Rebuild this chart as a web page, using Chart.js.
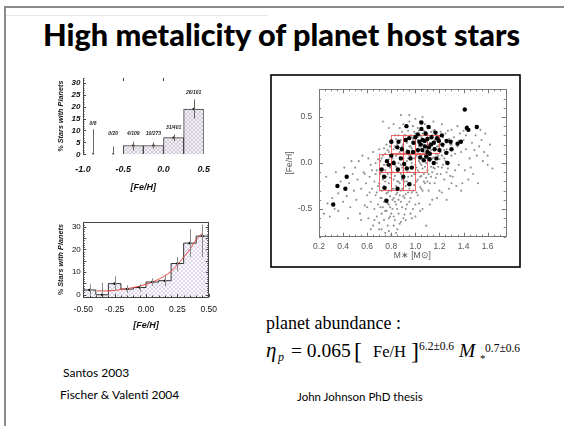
<!DOCTYPE html>
<html>
<head>
<meta charset="utf-8">
<title>High metalicity of planet host stars</title>
<script src="https://cdn.jsdelivr.net/npm/chart.js@4.4.1/dist/chart.umd.min.js"></script>
<style>
  html, body { margin: 0; padding: 0; background: #fff; }
  body { position: relative; width: 564px; height: 426px; overflow: hidden; }
  svg.page { position: absolute; left: 0; top: 0; }
  .box { position: absolute; }
  .box canvas { display: block; }
</style>
</head>
<body>
<svg class="page" width="564" height="426">
  <rect x="4" y="6" width="2" height="420" fill="#8c8c8c"/>
  <rect x="4" y="6" width="560" height="2" fill="#8c8c8c"/>
  <rect x="6" y="15" width="262" height="1" fill="#e6e6e6"/>
  <text x="43" y="46" textLength="477" lengthAdjust="spacingAndGlyphs" font-family="Lato" font-weight="900" font-size="31">High metalicity of planet host stars</text>
  <rect x="271" y="75" width="249" height="192" fill="none" stroke="#000" stroke-width="1.6"/>
  <text x="63" y="377" font-family="Lato" font-size="12">Santos 2003</text>
  <text x="60" y="399" font-family="Lato" font-size="12">Fischer &amp; Valenti 2004</text>
  <text x="297" y="401" font-family="Lato" font-size="11.5">John Johnson PhD thesis</text>
  <g font-family="Liberation Serif" fill="#000">
    <text x="266" y="329" font-size="18">planet abundance :</text>
    <text x="266" y="357" font-size="21" font-style="italic">η</text>
    <text x="278" y="361" font-size="12" font-style="italic">p</text>
    <text x="291" y="357" font-size="19.5">= 0.065</text>
    <text x="354" y="359" font-size="24">[</text>
    <text x="373" y="357" font-size="16.5">Fe/H</text>
    <text x="411" y="359" font-size="24">]</text>
    <text x="419" y="350" font-size="11.5">6.2±0.6</text>
    <text x="459" y="357" font-size="19.5" font-style="italic">M</text>
    <text x="480" y="362" font-size="11">*</text>
    <text x="485" y="352" font-size="11.5">0.7±0.6</text>
  </g>
</svg>
<div class="box" style="left:50px;top:70px"><canvas id="santos" width="170" height="130"></canvas></div>
<div class="box" style="left:50px;top:215px"><canvas id="fischer" width="175" height="130"></canvas></div>
<div class="box" style="left:272px;top:76px"><canvas id="johnson" width="247" height="190"></canvas></div>
<script>
// Santos 2003: fraction of stars with planets per [Fe/H] bin
const santosCenters = [-0.875, -0.625, -0.375, -0.125, 0.125, 0.375];
const santosPct = [0, 0, 3.7, 3.7, 7.0, 19.0];
const santosErrLo = [0, 0, 1.5, 2.5, 5.6, 15.0];
const santosErrHi = [10.5, 3.3, 5.3, 5.0, 8.4, 23.0];
const santosCounts = ["0/8", "0/20", "4/109", "10/273", "31/401", "26/101"];
const santosCountAt = [11.8, 7.8, 7.8, 7.8, 10.2, 25.0];
const santosXTicks = [-1.0, -0.5, 0.0, 0.5];
const santosYTicks = [0, 5, 10, 15, 20, 25, 30];

// Fischer & Valenti 2004
const fvEdges = [-0.5, -0.4, -0.3, -0.2, -0.1, 0.0, 0.1, 0.2, 0.3, 0.4, 0.5];
const fvCenters = [-0.45, -0.35, -0.25, -0.15, -0.05, 0.05, 0.15, 0.25, 0.35, 0.45];
const fvPct = [2.1, 0, 4.9, 2.5, 3.2, 5.6, 6.2, 13.8, 22.8, 25.9];
const fvErrLo = [0, 0, 1.8, 0.8, 1.4, 3.9, 3.9, 10.3, 16.6, 16.6];
const fvErrHi = [4.6, 5.3, 8.2, 4.2, 4.6, 7.3, 8.9, 16.6, 29.0, 31.0];
const fitFeh = [-0.39, -0.3, -0.2, -0.1, 0.0, 0.1, 0.2, 0.26, 0.3, 0.36, 0.4, 0.45];
const fitPct = [1.7, 1.7, 2.3, 3.2, 4.6, 6.8, 10.3, 13.8, 16.6, 20.8, 24.4, 27.2];
const fvXTicks = [-0.5, -0.25, 0, 0.25, 0.5];
const fvYTicks = [0, 5, 10, 15, 20, 25, 30];

// Johnson thesis: stellar mass vs [Fe/H]
const fieldStars = [
  [0.24,-0.55],[0.27,-0.44],[0.29,-0.58],[0.31,-0.38],[0.26,-0.15],[0.33,-0.5],
  [0.36,-0.33],[0.38,-0.2],[0.4,-0.42],[0.41,-0.05],[0.43,-0.36],[0.45,-0.22],[0.46,-0.48],[0.48,-0.12],[0.49,-0.3],
  [0.51,-0.4],[0.52,-0.18],[0.53,0.02],[0.54,-0.55],[0.55,-0.28],[0.56,0.08],[0.57,-0.1],[0.58,-0.46],[0.59,-0.22],[0.6,-0.35],
  [0.61,-0.6],[0.61,0.05],[0.62,-0.15],[0.63,-0.42],[0.63,-0.02],[0.64,-0.28],[0.65,-0.68],[0.65,0.12],[0.66,-0.5],
  [0.66,-0.2],[0.67,-0.35],[0.67,0.0],[0.68,-0.08],[0.68,-0.58],[0.69,-0.45],[0.69,-0.25],[0.7,0.15],[0.7,-0.72],
  [0.71,-0.38],[0.71,-0.12],[0.72,-0.55],[0.72,0.05],[0.72,-0.3],[0.73,0.45],[0.73,-0.18],[0.73,-0.48],[0.74,-0.02],
  [0.74,-0.62],[0.74,-0.25],[0.75,0.1],[0.75,-0.4],[0.75,-0.08],
  [0.76,-0.52],[0.76,-0.15],[0.76,0.2],[0.77,-0.32],[0.77,0.02],[0.77,-0.68],[0.78,-0.22],[0.78,-0.45],[0.78,0.12],
  [0.79,-0.05],[0.79,-0.36],[0.79,-0.58],[0.8,0.25],[0.8,-0.12],[0.8,-0.78],
  [0.81,-0.28],[0.81,0.05],[0.81,-0.5],[0.82,-0.18],[0.82,0.15],[0.82,-0.38],[0.83,-0.02],[0.83,-0.62],[0.83,0.3],
  [0.84,-0.25],[0.84,0.08],[0.84,-0.45],[0.85,-0.1],[0.85,0.2],[0.85,-0.32],[0.85,-0.72],
  [0.86,0.0],[0.86,-0.2],[0.86,-0.55],[0.87,0.12],[0.87,-0.35],[0.87,0.38],[0.88,-0.12],[0.88,-0.42],[0.88,0.25],
  [0.88,0.52],[0.89,-0.05],[0.89,-0.28],[0.89,0.18],[0.9,-0.6],[0.9,0.05],[0.9,-0.18],
  [0.91,0.3],[0.91,-0.38],[0.91,-0.02],[0.92,0.12],[0.92,-0.25],[0.92,-0.5],[0.93,0.22],[0.93,-0.1],[0.93,0.02],
  [0.94,-0.32],[0.94,0.35],[0.94,-0.15],[0.95,0.08],[0.95,-0.42],[0.95,0.45],
  [0.96,-0.05],[0.96,0.18],[0.96,-0.22],[0.97,0.28],[0.97,-0.6],[0.97,0.0],[0.98,0.12],[0.98,-0.3],[0.98,0.4],
  [0.99,-0.12],[0.99,0.22],[0.99,0.05],[1.0,-0.45],[1.0,0.32],[1.0,-0.02],
  [1.01,0.15],[1.01,-0.2],[1.01,0.08],[1.02,0.25],[1.02,-0.08],[1.02,-0.35],[1.03,0.35],[1.03,0.02],[1.03,0.18],
  [1.04,-0.15],[1.04,0.45],[1.04,0.1],[1.05,-0.28],[1.05,0.28],[1.05,-0.02],
  [1.06,0.2],[1.06,0.05],[1.06,-0.5],[1.07,0.35],[1.07,-0.12],[1.07,0.12],[1.08,0.25],[1.08,-0.22],[1.08,0.42],
  [1.09,0.0],[1.09,0.15],[1.09,-0.68],[1.1,0.3],[1.1,-0.08],[1.1,0.08],
  [1.11,0.2],[1.11,-0.3],[1.12,0.38],[1.12,0.02],[1.12,0.12],[1.13,-0.15],[1.13,0.28],[1.14,0.05],[1.14,0.22],
  [1.14,-0.4],[1.15,0.15],[1.15,-0.05],[1.15,0.35],
  [1.16,0.25],[1.16,-0.22],[1.17,0.1],[1.17,0.32],[1.18,0.0],[1.18,0.18],[1.18,-0.12],[1.19,0.28],[1.19,0.08],
  [1.2,-0.3],[1.2,0.2],
  [1.21,0.12],[1.22,-0.05],[1.22,0.3],[1.23,0.18],[1.24,-0.18],[1.24,0.05],[1.25,0.25],[1.26,-0.1],[1.26,0.15],
  [1.27,0.35],[1.28,0.0],[1.28,-0.28],[1.29,0.2],[1.3,0.08],
  [1.31,-0.15],[1.32,0.28],[1.33,0.1],[1.34,-0.25],[1.35,0.18],[1.36,-0.02],[1.37,0.32],[1.38,0.12],[1.39,-0.22],
  [1.4,0.25],[1.41,-0.08],[1.42,0.15],[1.43,0.4],[1.44,-0.18],[1.45,0.05],
  [1.47,0.22],[1.48,-0.12],[1.5,0.3],[1.51,0.08],[1.53,0.18],[1.55,0.25],[1.56,0.02],[1.58,0.32],[1.6,0.08],[1.6,-0.02],
  // denser core of the cloud
  [0.70,-0.22],[0.71,0.02],[0.71,-0.48],[0.72,-0.1],[0.72,-0.38],[0.73,0.08],[0.73,-0.27],[0.74,-0.42],[0.74,0.16],
  [0.75,-0.2],[0.75,-0.52],[0.76,-0.02],[0.76,-0.33],[0.77,0.14],[0.77,-0.12],[0.77,-0.44],[0.78,0.04],[0.78,-0.3],
  [0.78,-0.6],[0.79,0.18],[0.79,-0.16],[0.79,-0.48],[0.8,-0.02],[0.8,-0.3],[0.8,-0.55],[0.81,0.22],[0.81,-0.1],
  [0.81,-0.4],[0.82,0.02],[0.82,-0.28],[0.82,-0.58],[0.83,0.18],[0.83,-0.14],[0.83,-0.42],[0.84,-0.04],[0.84,0.26],
  [0.84,-0.34],[0.85,0.1],[0.85,-0.2],[0.85,-0.5],[0.86,0.3],[0.86,-0.08],[0.86,-0.4],[0.87,0.06],[0.87,-0.22],
  [0.87,-0.66],[0.88,0.16],[0.88,-0.02],[0.88,-0.3],[0.89,0.34],[0.89,-0.18],[0.89,-0.48],[0.9,0.2],[0.9,-0.08],
  [0.9,-0.36],[0.91,0.1],[0.91,-0.2],[0.91,-0.56],[0.92,0.3],[0.92,-0.04],[0.92,-0.34],[0.93,0.14],[0.93,-0.2],
  [0.93,-0.45],[0.94,0.05],[0.94,0.26],[0.94,-0.06],[0.95,0.18],[0.95,-0.28],[0.95,-0.1],[0.96,0.3],[0.96,0.08],
  [0.96,-0.38],[0.97,0.16],[0.97,-0.14],[0.97,-0.32],[0.98,0.26],[0.98,-0.04],[0.98,-0.5],[0.99,0.34],[0.99,0.12],
  [0.99,-0.24],[1.0,0.2],[1.0,0.06],[1.0,-0.12],[1.01,0.28],[1.01,-0.05],[1.01,-0.32],[1.02,0.12],[1.02,0.38],
  [1.02,-0.18],[1.03,0.22],[1.03,-0.1],[1.03,-0.44],[1.04,0.3],[1.04,0.0],[1.04,-0.26],[1.05,0.16],[1.05,0.08],
  [1.05,-0.14],[1.06,0.32],[1.06,-0.06],[1.06,-0.3],[1.07,0.2],[1.07,0.04],[1.07,-0.2],[1.08,0.34],[1.08,0.1],
  [1.08,-0.04],[1.09,0.24],[1.09,-0.16],[1.09,0.06],[1.1,0.16],[1.1,0.4],[1.1,-0.2],[1.11,0.26],[1.11,0.06],
  [1.11,-0.12],[1.12,0.22],[1.12,-0.22],[1.13,0.14],[1.13,0.34],[1.13,-0.04],[1.14,0.3],[1.14,-0.1],[1.15,0.22],
  [1.15,0.06],[1.16,0.16],[1.16,0.36],[1.16,-0.06],[1.17,0.24],[1.17,-0.16],[1.18,0.1],[1.18,0.3],[1.19,-0.04],
  [1.19,0.18],[1.2,0.26],[1.2,0.04],[1.21,0.34],[1.21,-0.12],[1.22,0.2],[1.22,0.08],[1.23,-0.02],[1.23,0.28],
  [1.24,0.14],[1.25,0.02],[1.25,0.32],[1.26,0.22],[1.27,-0.06],[1.27,0.12],[1.28,0.26],[1.29,-0.14],[1.3,0.2],[1.3,-0.22],
  // sparse edges
  [0.55,-0.62],[0.58,-0.12],[0.6,-0.48],[0.62,-0.32],[0.63,-0.72],[0.64,-0.08],[0.66,-0.62],[0.67,-0.12],[0.68,-0.32],
  [0.69,0.04],[0.7,-0.65],[0.72,-0.72],[0.75,-0.76],[0.78,-0.74],[0.82,-0.68],[0.84,-0.76],[0.88,-0.64],[0.92,-0.62],
  [0.96,-0.55],[1.0,-0.58],[1.04,-0.52],[1.12,-0.45],[1.18,-0.38],[1.22,-0.32],[1.26,-0.4],[0.47,0.02],[0.5,-0.05],
  [0.44,-0.6],[0.36,-0.52],[0.34,-0.1],[0.78,0.38],[0.82,0.42],[0.9,0.42],[0.95,0.52],[1.0,0.48],[1.06,0.5],
  [1.15,0.45],[1.22,0.42],[1.3,0.36],[1.35,0.4],[1.4,0.35],[1.33,-0.08],[1.36,0.24],[1.38,-0.3],[1.42,0.3],
  [1.46,-0.05],[1.49,0.14],[1.52,-0.22],[1.54,0.36],[1.57,0.12],[1.62,0.2],[1.64,-0.06]
];
const hostStars = [
  [0.318,-0.45],[0.353,-0.25],[0.419,-0.28],[0.43,-0.15],[0.76,-0.41],[0.72,-0.07],[0.74,-0.15],[0.745,-0.27],
  [0.764,0.02],[0.80,0.08],[0.80,0.23],[0.85,0.17],[0.855,-0.07],[0.852,-0.28],[0.888,0.15],[0.907,-0.01],
  [0.90,-0.15],[0.926,0.40],[0.929,-0.06],[0.948,0.27],[0.95,-0.23],[0.984,0.22],[1.05,0.44],[1.044,0.2],
  [1.058,0.14],[1.077,0.24],[1.085,0.32],[1.09,0.07],[1.10,0.12],[1.11,0.39],[1.112,0.17],[1.134,0.28],
  [1.153,0.22],[1.167,0.33],[1.175,0.05],[1.195,0.24],[1.2,0.14],[1.225,0.2],[1.257,0.11],[1.266,0.0],
  [1.293,0.23],[1.378,0.23],[1.41,0.58],[1.427,0.38],[1.44,0.36],[1.51,0.39],[1.022,0.14],[1.033,0.23],
  [0.98,0.12],[0.96,0.05],[1.07,0.03],[1.118,0.04],[1.153,0.0],
  [1.0,0.28],[1.02,0.31],[1.06,0.25],[1.08,0.18],[1.1,0.26],[1.13,0.2],[1.16,0.15],[1.18,0.27],[1.22,0.3],
  [1.26,0.24],[0.92,0.25],[0.88,0.05],[0.82,0.0],[0.78,-0.02],[0.97,-0.05],[1.04,0.06],[1.12,0.1],[0.94,0.12],
  [1.3,0.15],[1.35,0.21],[1.05,0.37],[0.86,0.23]
];
// lower-left corners of the red bins (each 0.1 in mass by 0.2 in [Fe/H])
const binMass = [0.8, 0.9, 1.0, 1.1, 0.7, 0.8, 0.9, 1.0, 0.7, 0.8, 0.9];
const binFeh = [0.1, 0.1, 0.1, 0.1, -0.1, -0.1, -0.1, -0.1, -0.3, -0.3, -0.3];
const massTicks = [0.2, 0.4, 0.6, 0.8, 1.0, 1.2, 1.4, 1.6];
const fehTicks = [-0.5, 0.0, 0.5];

const helv = (size, weight, style) => ({ family: 'Liberation Sans', size, weight, style });

function hatch(line, bg, gap, cross) {
  const c = document.createElement('canvas');
  c.width = c.height = gap;
  const g = c.getContext('2d');
  g.fillStyle = bg;
  g.fillRect(0, 0, gap, gap);
  g.strokeStyle = line;
  g.lineWidth = 1;
  g.beginPath();
  g.moveTo(-1, gap + 1); g.lineTo(gap + 1, -1);
  if (cross) { g.moveTo(-1, -1); g.lineTo(gap + 1, gap + 1); }
  g.stroke();
  return g.createPattern(c, 'repeat');
}

function errorBars(xs, lo, hi, color) {
  return {
    id: 'errorBars',
    afterDatasetsDraw(chart) {
      const { ctx, scales: { x, y } } = chart;
      ctx.save();
      ctx.strokeStyle = color;
      ctx.lineWidth = 1;
      ctx.beginPath();
      xs.forEach((v, i) => {
        const px = Math.round(x.getPixelForValue(v)) + 0.5;
        ctx.moveTo(px, y.getPixelForValue(lo[i]));
        ctx.lineTo(px, y.getPixelForValue(hi[i]));
      });
      ctx.stroke();
      ctx.restore();
    }
  };
}

// ticks pointing into the plot, like the IDL originals
function innerTicks(cfg) {
  return {
    id: 'innerTicks',
    afterDraw(chart) {
      const { ctx, chartArea: a, scales: { x, y } } = chart;
      ctx.save();
      ctx.strokeStyle = cfg.color;
      ctx.lineWidth = 1;
      ctx.beginPath();
      const xs = (vals, len) => vals.forEach(v => {
        const px = Math.round(x.getPixelForValue(v)) + 0.5;
        if (cfg.xSides.includes('b')) { ctx.moveTo(px, a.bottom); ctx.lineTo(px, a.bottom - len); }
        if (cfg.xSides.includes('t')) { ctx.moveTo(px, a.top); ctx.lineTo(px, a.top + len); }
      });
      const ys = (vals, len) => vals.forEach(v => {
        const py = Math.round(y.getPixelForValue(v)) + 0.5;
        if (cfg.ySides.includes('l')) { ctx.moveTo(a.left, py); ctx.lineTo(a.left + len, py); }
        if (cfg.ySides.includes('r')) { ctx.moveTo(a.right, py); ctx.lineTo(a.right - len, py); }
      });
      xs(cfg.xMajor || [], cfg.major); xs(cfg.xMinor || [], cfg.minor);
      ys(cfg.yMajor || [], cfg.major); ys(cfg.yMinor || [], cfg.minor);
      ctx.stroke();
      if (cfg.frame) {
        ctx.strokeStyle = cfg.frame;
        ctx.strokeRect(Math.round(a.left) + 0.5, Math.round(a.top) + 0.5,
          Math.round(a.right - a.left), Math.round(a.bottom - a.top));
      }
      ctx.restore();
    }
  };
}

const steps = (from, to, step) => {
  const out = [];
  for (let v = from; v <= to + 1e-9; v += step) out.push(Math.round(v * 1000) / 1000);
  return out;
};

const base = {
  responsive: false,
  animation: false,
  devicePixelRatio: 1,
  events: [],
  plugins: { legend: { display: false }, tooltip: { enabled: false } }
};

// ---------- Santos 2003 ----------
new Chart(document.getElementById('santos'), {
  type: 'bar',
  data: {
    datasets: [
      {
        type: 'scatter',
        data: santosCenters.map((x, i) => ({ x, y: santosPct[i] })),
        pointRadius: 1.2, pointBorderWidth: 0, pointBackgroundColor: '#222', order: 0
      },
      {
        data: santosCenters.map((x, i) => ({ x, y: santosPct[i] || null })),
        backgroundColor: hatch('#d3ccdb', '#f3f1f5', 4, true),
        borderColor: '#3c3c3c', borderWidth: 1,
        barPercentage: 1, categoryPercentage: 1, order: 1
      }
    ]
  },
  options: {
    ...base,
    layout: { padding: { left: 0, top: 8, right: 14, bottom: 0 } },
    scales: {
      x: {
        type: 'linear', min: -1, max: 0.5, offset: false,
        grid: { display: false, drawTicks: false }, border: { display: false },
        afterBuildTicks: s => { s.ticks = santosXTicks.map(value => ({ value })); },
        afterFit: s => { s.height = 45.7; },
        ticks: { padding: 10, maxRotation: 0, autoSkip: false, color: '#111',
          font: helv(9, 'bold', 'italic'), callback: v => v.toFixed(1) },
        title: { display: true, text: '[Fe/H]', color: '#111', font: helv(9, 'bold', 'italic'),
          padding: { top: 0, bottom: 6.6 } }
      },
      y: {
        min: 0, max: 32,
        grid: { display: false, drawTicks: false }, border: { display: true, color: '#444', width: 1 },
        afterBuildTicks: s => { s.ticks = santosYTicks.map(value => ({ value })); },
        afterFit: s => { s.width = 33; },
        ticks: { padding: 2.5, color: '#111', font: helv(8, 'bold', 'italic') },
        title: { display: true, text: '% Stars with Planets', color: '#111', font: helv(7.3, 'bold', 'italic'),
          padding: { top: 6.3, bottom: 0 } }
      }
    }
  },
  plugins: [
    errorBars(santosCenters, santosErrLo, santosErrHi, '#666'),
    innerTicks({ color: '#444', xSides: 't', ySides: 'l', major: 3, minor: 1.5,
      xMajor: [-0.5, 0.0], yMajor: santosYTicks, yMinor: steps(0, 32, 1) }),
    {
      id: 'counts',
      afterDatasetsDraw(chart) {
        const { ctx, scales: { x, y } } = chart;
        ctx.save();
        ctx.font = 'italic bold 5px "Liberation Sans"';
        ctx.fillStyle = '#222';
        ctx.textAlign = 'center';
        ctx.textBaseline = 'bottom';
        santosCounts.forEach((t, i) => ctx.fillText(t, x.getPixelForValue(santosCenters[i]), y.getPixelForValue(santosCountAt[i])));
        ctx.restore();
      }
    }
  ]
});

// ---------- Fischer & Valenti 2004 ----------
new Chart(document.getElementById('fischer'), {
  type: 'line',
  data: {
    datasets: [
      {
        type: 'scatter',
        data: fvCenters.map((x, i) => ({ x, y: fvPct[i] })),
        pointRadius: 1.3, pointBorderWidth: 0, pointBackgroundColor: '#111', order: 0
      },
      {
        data: fitFeh.map((x, i) => ({ x, y: fitPct[i] })),
        borderColor: '#e8473f', borderWidth: 1, pointRadius: 0, fill: false,
        cubicInterpolationMode: 'monotone', order: 1
      },
      {
        data: fvEdges.map((x, i) => ({ x, y: fvPct[Math.min(i, fvPct.length - 1)] })),
        stepped: true, fill: 'start', backgroundColor: hatch('#e0d6ec', '#fdfcfe', 4, true),
        borderColor: '#333', borderWidth: 1, pointRadius: 0, order: 2
      }
    ]
  },
  options: {
    ...base,
    layout: { padding: { left: 0, top: 6, right: 13.3, bottom: 0 } },
    scales: {
      x: {
        type: 'linear', min: -0.5, max: 0.5,
        grid: { display: false, drawTicks: false }, border: { display: false },
        afterBuildTicks: s => { s.ticks = fvXTicks.map(value => ({ value })); },
        afterFit: s => { s.height = 48; },
        ticks: { padding: 8, maxRotation: 0, autoSkip: false, color: '#111',
          font: helv(8.5), callback: v => v.toFixed(2) },
        title: { display: true, text: '[Fe/H]', color: '#111', font: helv(9, 'bold', 'italic'),
          padding: { top: 0, bottom: 13.6 } }
      },
      y: {
        min: -1, max: 32,
        grid: { display: false, drawTicks: false }, border: { display: false },
        afterBuildTicks: s => { s.ticks = fvYTicks.map(value => ({ value })); },
        afterFit: s => { s.width = 33.3; },
        ticks: { padding: 2.5, color: '#111', font: helv(8) },
        title: { display: true, text: '% Stars with Planets', color: '#111', font: helv(7.3, 'bold', 'italic'),
          padding: { top: 6.3, bottom: 0 } }
      }
    }
  },
  plugins: [
    errorBars(fvCenters, fvErrLo, fvErrHi, '#8a8a8a'),
    innerTicks({ color: '#444', xSides: 'b', ySides: 'lr', major: 3, minor: 1.5, frame: '#444',
      xMajor: fvXTicks, xMinor: steps(-0.5, 0.5, 0.05), yMajor: fvYTicks, yMinor: steps(0, 31, 1) })
  ]
});

// ---------- Johnson thesis ----------
new Chart(document.getElementById('johnson'), {
  type: 'scatter',
  data: {
    datasets: [
      {
        data: hostStars.map(([x, y]) => ({ x, y })),
        pointRadius: 2.2, pointBorderWidth: 0, pointBackgroundColor: '#000', order: 0
      },
      {
        data: fieldStars.map(([x, y]) => ({ x, y })),
        pointRadius: 1.05, pointBorderWidth: 0, pointBackgroundColor: '#8f8f8f', order: 1
      }
    ]
  },
  options: {
    ...base,
    layout: { padding: { left: 0, top: 13.3, right: 13.3, bottom: 0 } },
    scales: {
      x: {
        type: 'linear', min: 0.2, max: 1.75,
        grid: { display: false, drawTicks: false }, border: { display: false },
        afterBuildTicks: s => { s.ticks = massTicks.map(value => ({ value })); },
        afterFit: s => { s.height = 29.3; },
        ticks: { padding: 4.7, maxRotation: 0, autoSkip: false, color: '#555',
          font: helv(8.5), callback: v => v.toFixed(1) },
        title: { display: true, text: 'M∗ [M⊙]', color: '#555', font: helv(8.5),
          padding: { top: 0, bottom: 4.9 } }
      },
      y: {
        min: -0.8, max: 0.8,
        grid: { display: false, drawTicks: false }, border: { display: false },
        afterBuildTicks: s => { s.ticks = fehTicks.map(value => ({ value })); },
        afterFit: s => { s.width = 47; },
        ticks: { padding: 6.7, color: '#555', font: helv(8.5), callback: v => v.toFixed(1) },
        title: { display: true, text: '[Fe/H]', color: '#555', font: helv(8.5),
          padding: { top: 12.9, bottom: 0 } }
      }
    }
  },
  plugins: [
    {
      // red bins sit above the field stars but under the planet hosts
      id: 'bins',
      afterDatasetDraw(chart, args) {
        if (args.index !== 1) return;
        const { ctx, scales: { x, y } } = chart;
        ctx.save();
        ctx.strokeStyle = '#f25555';
        ctx.globalAlpha = 0.85;
        ctx.lineWidth = 1;
        binMass.forEach((m, i) => {
          const x0 = x.getPixelForValue(m), x1 = x.getPixelForValue(m + 0.1);
          const y0 = y.getPixelForValue(binFeh[i]), y1 = y.getPixelForValue(binFeh[i] + 0.2);
          ctx.strokeRect(Math.round(x0) + 0.5, Math.round(y1) + 0.5, Math.round(x1 - x0), Math.round(y0 - y1));
        });
        ctx.restore();
      }
    },
    innerTicks({ color: '#777', xSides: 'tb', ySides: 'lr', major: 4, minor: 2, frame: '#777',
      xMajor: massTicks, xMinor: steps(0.2, 1.75, 0.05), yMajor: fehTicks, yMinor: steps(-0.8, 0.8, 0.1) })
  ]
});
</script>
</body>
</html>
